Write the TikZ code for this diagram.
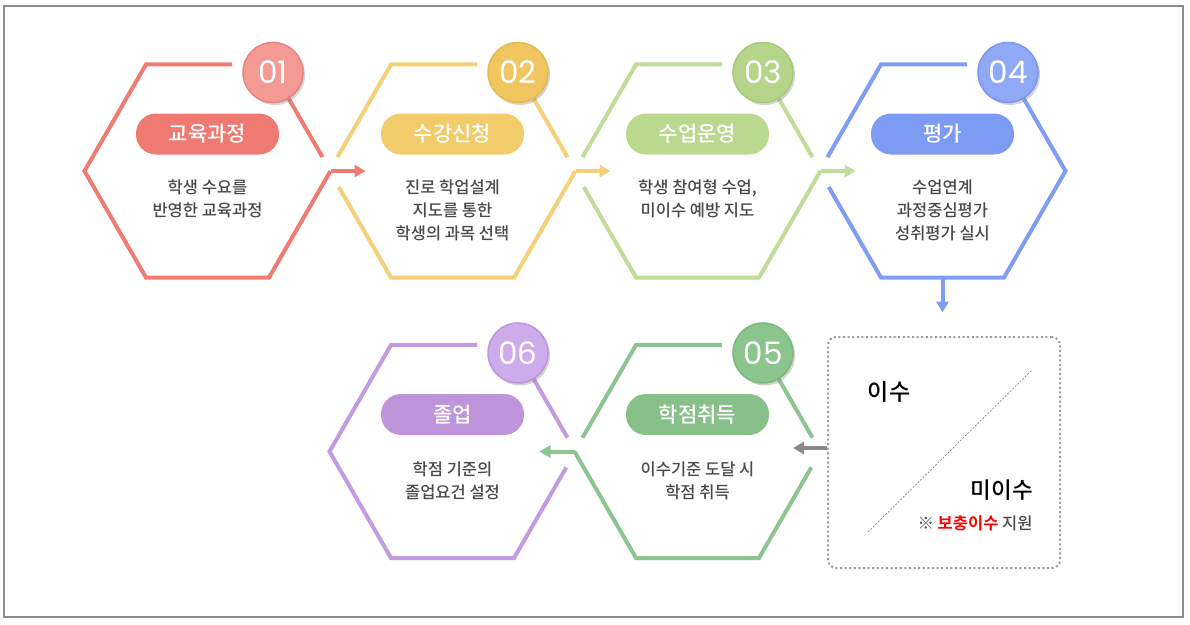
\documentclass[tikz,border=0pt]{standalone}
\usepackage{fontspec}
\setmainfont{Noto Sans CJK KR Medium}[BoldFont={Noto Sans CJK KR Bold}]
\newfontfamily\numfont{Poppins}
\usetikzlibrary{shapes.geometric,calc,shadows}
\usetikzlibrary{arrows.meta,arrows}

\definecolor{redL}{HTML}{F07B73}
\definecolor{redP}{HTML}{EE7A72}
\definecolor{redC}{HTML}{F39A94}
\definecolor{redD}{HTML}{E8837C}
\definecolor{yelL}{HTML}{F4D078}
\definecolor{yelP}{HTML}{F2CB6B}
\definecolor{yelC}{HTML}{F0C660}
\definecolor{yelD}{HTML}{E6B94F}
\definecolor{lgrL}{HTML}{BEDD99}
\definecolor{lgrP}{HTML}{BAD98F}
\definecolor{lgrC}{HTML}{B5D68A}
\definecolor{lgrD}{HTML}{A5CB78}
\definecolor{bluL}{HTML}{809DF6}
\definecolor{bluP}{HTML}{7E9BF4}
\definecolor{bluC}{HTML}{90A9F5}
\definecolor{bluD}{HTML}{7B97EE}
\definecolor{grnL}{HTML}{8CC58F}
\definecolor{grnP}{HTML}{88C08A}
\definecolor{grnC}{HTML}{8CC48D}
\definecolor{grnD}{HTML}{7AB87C}
\definecolor{purL}{HTML}{C39BE0}
\definecolor{purP}{HTML}{BE94DB}
\definecolor{purC}{HTML}{CEABEA}
\definecolor{purD}{HTML}{BC95DC}
\definecolor{descgray}{HTML}{4A4A4A}
\definecolor{framegray}{HTML}{8C8C8C}
\definecolor{dotgray}{HTML}{9A9A9A}
\definecolor{arrowgray}{HTML}{8A8A8A}

\begin{document}
\begin{tikzpicture}
[x=1pt,y=-1pt,
hex/.style={regular polygon, regular polygon sides=6,
minimum size=246pt, inner sep=0pt, outer sep=0pt},
hexline/.style={line width=4pt},
tag/.style ={rectangle, rounded corners=20pt,
minimum width=143pt, minimum height=41pt, inner sep=0pt,
text=white, font=\fontsize{21}{24}\selectfont},
num/.style ={circle, minimum size=60pt, inner sep=0pt, line width=1.5pt,
text=white, font=\numfont\fontsize{31}{33}\selectfont,
drop shadow={opacity=0.35, shadow xshift=2pt, shadow yshift=-2.5pt}},
desc/.style ={text=descgray, align=center, anchor=north, inner sep=0pt,
font=\fontsize{16.5}{23}\selectfont},
line/.style ={draw, line width=4pt, -{Triangle[length=11pt,width=12pt]}},
diag/.style ={draw=arrowgray, line width=0.7pt, dash pattern=on 2pt off 1.5pt}]
\fill [white] (0,0) rectangle (1190,624);
\useasboundingbox (0,0) rectangle (1190,624);
\draw [framegray, line width=1.2pt] (4,6) rectangle (1183,617);

% the six hexagons
\node [hex] (curr)   at (207.5,171) {};
\node [hex] (enrol)  at (452.5,171) {};
\node [hex] (class)  at (697.5,171) {};
\node [hex] (eval)   at (942.5,171) {};
\node [hex] (credit) at (697.5,451.5) {};
\node [hex] (grad)   at (452.5,451.5) {};

% hexagon borders, row 1
\begin{scope}[every path/.style=hexline]
\draw [redL] ($(curr.corner 2)!0.7!(curr.corner 1)$) -- (curr.corner 2) -- (curr.corner 3)
  -- (curr.corner 4) -- (curr.corner 5) -- (curr.corner 6);
\draw [redL] (curr.corner 1) -- ($(curr.corner 1)!0.87!(curr.corner 6)$);
\draw [yelL] ($(enrol.corner 2)!0.7!(enrol.corner 1)$) -- (enrol.corner 2)
  -- ($(enrol.corner 2)!0.87!(enrol.corner 3)$);
\draw [yelL] ($(enrol.corner 3)!0.15!(enrol.corner 4)$) -- (enrol.corner 4)
  -- (enrol.corner 5) -- (enrol.corner 6);
\draw [yelL] (enrol.corner 1) -- ($(enrol.corner 1)!0.87!(enrol.corner 6)$);
\draw [lgrL] ($(class.corner 2)!0.7!(class.corner 1)$) -- (class.corner 2)
  -- ($(class.corner 2)!0.87!(class.corner 3)$);
\draw [lgrL] ($(class.corner 3)!0.15!(class.corner 4)$) -- (class.corner 4)
  -- (class.corner 5) -- (class.corner 6);
\draw [lgrL] (class.corner 1) -- ($(class.corner 1)!0.87!(class.corner 6)$);
\draw [bluL] ($(eval.corner 2)!0.7!(eval.corner 1)$) -- (eval.corner 2)
  -- ($(eval.corner 2)!0.87!(eval.corner 3)$);
\draw [bluL] ($(eval.corner 3)!0.15!(eval.corner 4)$) -- (eval.corner 4)
  -- (eval.corner 5) -- (eval.corner 6) -- (eval.corner 1);
% row 2
\draw [grnL] ($(credit.corner 2)!0.7!(credit.corner 1)$) -- (credit.corner 2)
  -- ($(credit.corner 2)!0.87!(credit.corner 3)$);
\draw [grnL] ($(credit.corner 6)!0.15!(credit.corner 5)$) -- (credit.corner 5)
  -- (credit.corner 4) -- (credit.corner 3);
\draw [grnL] (credit.corner 1) -- ($(credit.corner 1)!0.87!(credit.corner 6)$);
\draw [purL] ($(grad.corner 6)!0.15!(grad.corner 5)$) -- (grad.corner 5) -- (grad.corner 4)
  -- (grad.corner 3) -- (grad.corner 2) -- ($(grad.corner 2)!0.7!(grad.corner 1)$);
\draw [purL] (grad.corner 1) -- ($(grad.corner 1)!0.87!(grad.corner 6)$);
\end{scope}

% arrows between the steps
\begin{scope}[every path/.style=line]
\path [redL] (curr.corner 6) -- ++(35,0);
\path [yelL] (enrol.corner 6) -- ++(35,0);
\path [lgrL] (class.corner 6) -- ++(35,0);
\path [bluL] (eval.south) -- ++(0,35);
\path [grnL] (credit.corner 3) -- ++(-35,0);
\end{scope}

% number circles
\node [num, fill=redC, draw=redD] (currnum)   at ($(curr.corner 1)+(4,8)$)   {01};
\node [num, fill=yelC, draw=yelD] (enrolnum)  at ($(enrol.corner 1)+(4,8)$)  {02};
\node [num, fill=lgrC, draw=lgrD] (classnum)  at ($(class.corner 1)+(4,8)$)  {03};
\node [num, fill=bluC, draw=bluD] (evalnum)   at ($(eval.corner 1)+(4,8)$)   {04};
\node [num, fill=grnC, draw=grnD] (creditnum) at ($(credit.corner 1)+(4,8)$) {05};
\node [num, fill=purC, draw=purD] (gradnum)   at ($(grad.corner 1)+(4,8)$)   {06};

% titles
\node [tag, fill=redP] (currtag)   at ($(curr)+(0,-37)$)   {교육과정};
\node [tag, fill=yelP] (enroltag)  at ($(enrol)+(0,-37)$)  {수강신청};
\node [tag, fill=lgrP] (classtag)  at ($(class)+(0,-37)$)  {수업운영};
\node [tag, fill=bluP] (evaltag)   at ($(eval)+(0,-37)$)   {평가};
\node [tag, fill=grnP] (credittag) at ($(credit)+(0,-37)$) {학점취득};
\node [tag, fill=purP] (gradtag)   at ($(grad)+(0,-37)$)   {졸업};

% descriptions
\node [desc] (currtxt)   at ($(curr)+(0,8.5)$)   {학생 수요를\\반영한 교육과정};
\node [desc] (enroltxt)  at ($(enrol)+(0,8.5)$)  {진로 학업설계\\지도를 통한\\학생의 과목 선택};
\node [desc] (classtxt)  at ($(class)+(0,8.5)$)  {학생 참여형 수업,\\미이수 예방 지도};
\node [desc] (evaltxt)   at ($(eval)+(0,8.5)$)   {수업연계\\과정중심평가\\성취평가 실시};
\node [desc] (credittxt) at ($(credit)+(0,10)$) {이수기준 도달 시\\학점 취득};
\node [desc] (gradtxt)   at ($(grad)+(0,10)$)   {학점 기준의\\졸업요건 설정};

% pass / fail box
\node [draw=dotgray, line width=2pt, dash pattern=on 2pt off 2.6pt, rounded corners=8pt,
minimum width=232pt, minimum height=231pt] (box) at (944,452.5) {};
\coordinate (dgA) at (868,532);
\coordinate (dgB) at (1032,370);
\path [diag] (dgA) -- (dgB);
\node [font=\fontsize{23}{25}\selectfont] (pass) at (889,392) {이수};
\node [font=\fontsize{22.5}{25}\selectfont] (fail) at (1002,490) {미이수};
\node [text=descgray, font=\fontsize{16.5}{19}\selectfont] (supp) at (975,523)
  {※ {\color{red}\bfseries 보충이수} 지원};
\coordinate (grayend) at (793,448);
\path [line, arrowgray, line width=4.5pt] (box.west |- grayend) -- (grayend);
\end{tikzpicture}
\end{document}
